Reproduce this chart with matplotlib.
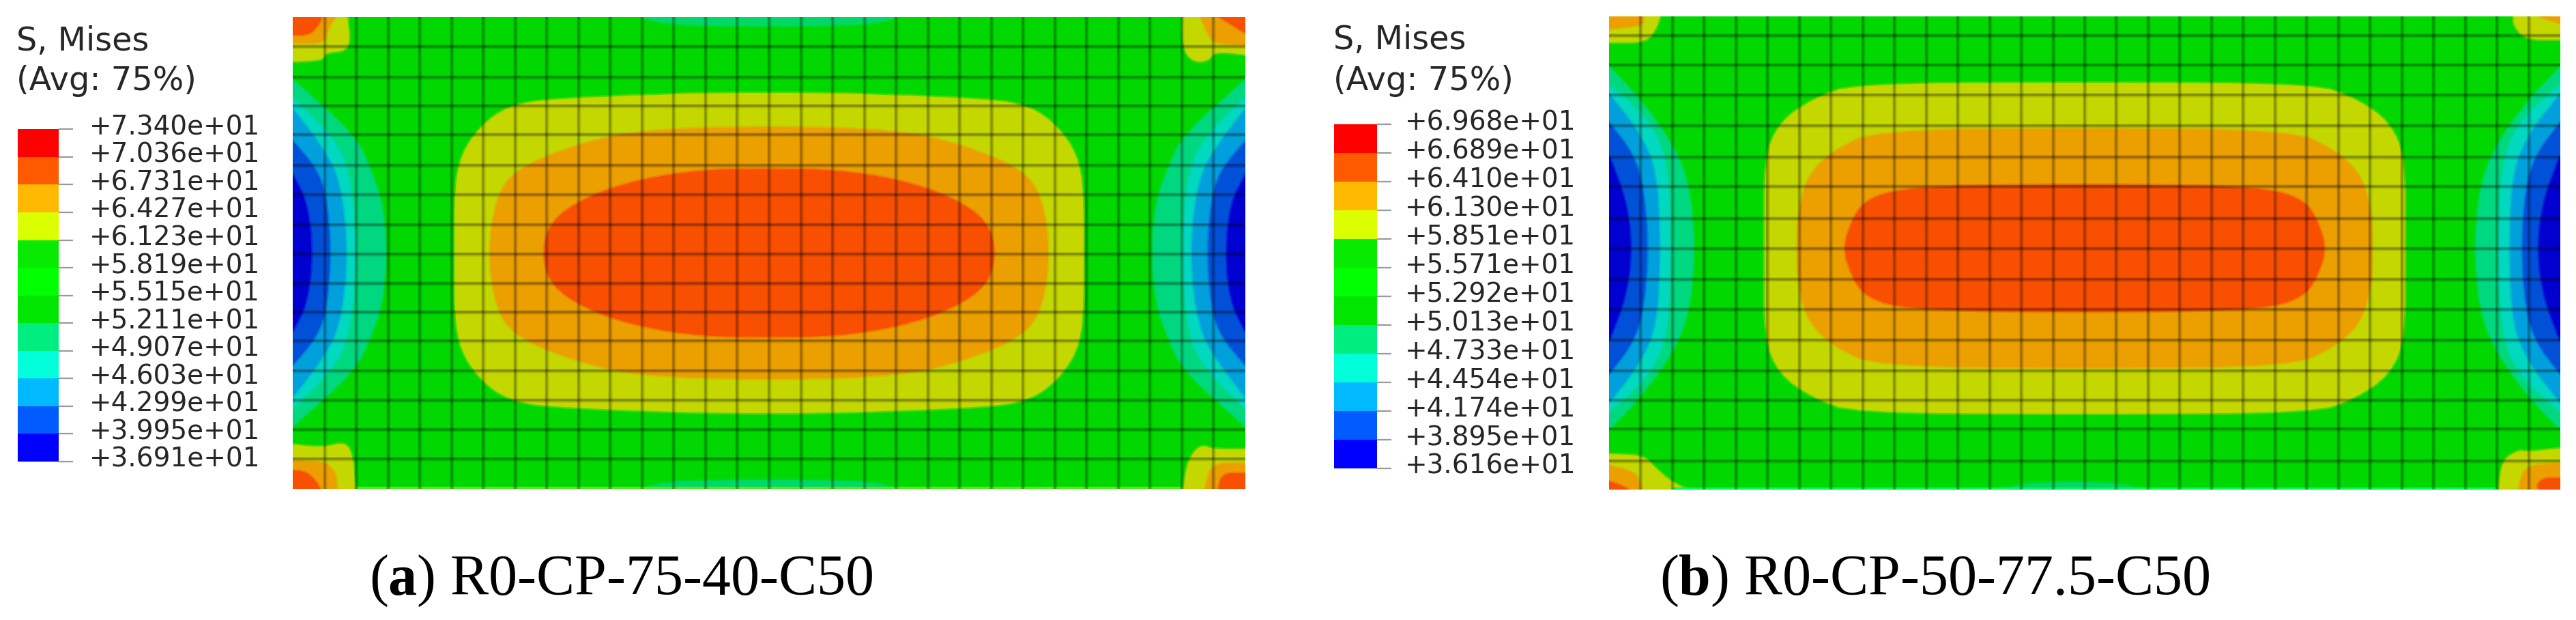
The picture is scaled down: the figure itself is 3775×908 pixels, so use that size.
#!/usr/bin/env python
"""Two Abaqus S, Mises contour panels with legends and captions."""
import matplotlib
matplotlib.use("Agg")
import matplotlib.pyplot as plt
from matplotlib.colors import to_rgba
from matplotlib.patches import Polygon
from matplotlib.transforms import ScaledTranslation

W, H = 3775, 908

plt.rcParams["mathtext.fontset"] = "custom"
plt.rcParams["mathtext.rm"] = "Liberation Serif"
plt.rcParams["mathtext.bf"] = "Liberation Serif:bold"

# legend levels, top to bottom
LEVELS_A = [73.40, 70.36, 67.31, 64.27, 61.23, 58.19, 55.15, 52.11, 49.07, 46.03, 42.99, 39.95, 36.91]
LEVELS_B = [69.68, 66.89, 64.10, 61.30, 58.51, 55.71, 52.92, 50.13, 47.33, 44.54, 41.74, 38.95, 36.16]
LEGEND_COLORS = ["#ff0000", "#ff5a00", "#ffb900", "#dcff00", "#08ea00", "#00ff00",
                 "#00e600", "#00ee80", "#00ffd9", "#00b9ff", "#005cff", "#0000ff"]

# field colours as they appear inside the mesh
GREEN = "#00d800"
YELLOW = "#c4d800"
ORANGE = "#eba000"
RED = "#f85000"
MINT = "#00d880"
CYAN = "#00d8c0"
SKY = "#00a0dc"
BLUE = "#0050d8"
DEEP = "#0000d0"

# mesh lines, in elements from the top
ROWS_A = [1.0, 2.03, 3.01, 3.98, 5.02, 6.02, 7.04, 8.03, 9.03, 10.0, 10.97, 11.99, 12.99, 13.98, 14.98]
ROWS_B = [0.65, 1.65, 2.65, 3.7, 4.76, 5.75, 6.84, 7.84, 8.89, 9.9, 10.95, 11.99, 12.98, 13.95, 15.03]
COLS = list(range(1, 30))

# contour outlines: one quadrant, (fraction of half width, fraction of half height)
A_YELLOW = [(0, .686), (.459, .655), (.55, .62), (.605, .538), (.646, .42), (.66, .27), (.66, 0)]
A_ORANGE = [(0, .538), (.276, .52), (.413, .454), (.532, .353), (.573, .235), (.59, 0)]
A_RED = [(0, .356), (.139, .353), (.276, .31), (.386, .235), (.459, .134), (.476, 0)]
B_YELLOW = [(0, .70), (.482, .695), (.571, .632), (.642, .532), (.673, .381), (.673, 0)]
B_ORANGE = [(0, .507), (.437, .498), (.526, .415), (.58, .314), (.602, .164), (.605, 0)]
B_RED = [(0, .27), (.26, .264), (.40, .247), (.464, .197), (.49, .114), (.508, 0)]

# edge arcs: (fraction of half width from the edge, fraction of half height)
A_MINT = [(.197, 0), (.188, .213), (.163, .358), (.13, .5), (0, .734)]
A_CYAN = [(.135, 0), (.119, .358), (.08, .5), (0, .658)]
A_SKY = [(.116, 0), (.099, .31), (.059, .456), (0, .61)]
A_BLUE = [(.08, 0), (.07, .243), (.049, .358), (0, .474)]
A_DEEP = [(.042, 0), (.03, .213), (0, .33)]
B_MINT = [(.18, 0), (.17, .25), (.14, .42), (.07, .62), (0, .766)]
B_CYAN = [(.13, 0), (.122, .38), (.08, .55), (0, .69)]
B_SKY = [(.107, 0), (.10, .33), (.06, .50), (0, .65)]
B_BLUE = [(.082, 0), (.072, .26), (.05, .40), (0, .53)]
B_DEEP = [(.048, 0), (.036, .2), (0, .39)]

# hot corners: (elements from the side, elements from the top or bottom)
A_TL = [[(0, 1.5), (.95, 1.46), (1.03, 1.2), (1.6, 1.16), (1.8, .88), (1.72, 0)],
        [(0, .88), (.99, .88), (1.08, .46), (1.33, 0)],
        [(0, .6), (.54, .6), (.86, .19), (.9, 0)]]
A_TR = [[(0, 1.27), (.97, 1.16), (1.18, 1.5), (1.68, 1.5), (1.97, 1.04), (1.97, 0)],
        [(0, .96), (.97, .89), (1.18, .58), (1.4, 0)],
        [(0, .54), (.82, 0)]]
A_BL = [[(0, 1.5), (.97, 1.4), (1.68, 1.6), (1.91, 1.02), (1.96, 0)],
        [(0, .97), (.97, .93), (1.35, .58), (1.4, 0)],
        [(0, .62), (.43, .58), (.75, .23), (.86, 0)]]
A_BR = [[(0, 1.34), (1.0, 1.34), (1.41, 1.5), (1.8, 1.0), (1.96, 0)],
        [(0, .87), (1.07, .87), (1.27, 0)],
        [(0, .53), (.73, .53), (.85, 0)]]
B_TL = [[(0, .88), (1.2, .88), (1.53, .3), (1.6, 0)],
        [(0, .42), (1.08, .3), (1.08, 0)]]
B_TR = [[(0, .78), (1.1, .78), (1.47, .3), (1.47, 0)],
        [(0, .24), (.67, 0)]]
B_BL = [[(0, 1.2), (1.08, 1.16), (1.5, .69), (1.94, .28), (2.47, 0)],
        [(0, .81), (.86, .58), (1.03, 0)],
        [(0, .28), (.43, .12), (.6, 0)]]
B_BR = [[(0, 1.39), (1.08, 1.27), (1.29, 1.34), (1.83, 1.0), (1.94, 0)],
        [(0, .88), (1.08, .81), (1.29, .23), (1.29, 0)],
        [(0, .39), (.54, .39), (.75, .12), (.65, 0)]]

# teal strips along the long edges: (fraction of half width, depth in elements)
A_STRIP = [(-.27, 0), (-.2, .3), (.2, .3), (.27, 0)]
B_STRIP = [(-.19, 0), (-.1, .25), (.05, .25), (.134, 0)]


def px_axes(fig, left, top, right, bottom):
    return fig.add_axes([left / W, 1 - bottom / H, (right - left) / W, (bottom - top) / H])


def rounded(pts, closed=False, passes=2):
    # corner cutting, the contours are soft in the picture
    for _ in range(passes):
        out = [] if closed else [pts[0]]
        n = len(pts)
        for i in range(n if closed else n - 1):
            (x0, y0), (x1, y1) = pts[i], pts[(i + 1) % n]
            out.append((.75 * x0 + .25 * x1, .75 * y0 + .25 * y1))
            out.append((.25 * x0 + .75 * x1, .25 * y0 + .75 * y1))
        if not closed:
            out.append(pts[-1])
        pts = out
    return pts


def soft_patch(ax, pts, color):
    ax.add_patch(Polygon(pts, fc=color, ec=to_rgba(color, .4), lw=3.5))


def central_band(ax, quad, color, cy):
    # quad runs from top centre to the right tip, mirror it into a closed outline
    tr = [(15 + u * 15, cy - v * 8) for u, v in quad]
    br = [(15 + u * 15, cy + v * 8) for u, v in reversed(quad[:-1])]
    bl = [(15 - u * 15, cy + v * 8) for u, v in quad[1:]]
    tl = [(15 - u * 15, cy - v * 8) for u, v in reversed(quad[1:-1])]
    soft_patch(ax, rounded(tr + br + bl + tl, closed=True), color)


def edge_arc(ax, quad, color, cy):
    for edge, sign in ((0, 1), (30, -1)):
        top = [(edge + sign * w * 15, cy - v * 8) for w, v in quad]
        bot = [(edge + sign * w * 15, cy + v * 8) for w, v in quad]
        soft_patch(ax, rounded(list(reversed(top)) + bot[1:]), color)


def corner(ax, layers, cx, cy, sx, sy):
    for pts, color in zip(layers, (YELLOW, ORANGE, RED)):
        xy = [(cx + sx * dx, cy + sy * dy) for dx, dy in pts]
        soft_patch(ax, [(cx, cy)] + rounded(xy), color)


def mesh(ax, rows):
    for lw, alpha in ((6.5, .09), (4.2, .14), (2.4, .12)):
        for x in COLS:
            ax.axvline(x, color="black", lw=lw * .72, alpha=alpha, zorder=5)
        for y in rows:
            ax.axhline(y, color="black", lw=lw * .72, alpha=alpha * 1.1, zorder=5)


def draw_panel(ax, arcs, bands, corners, rows, cy, strips, rim):
    ax.set_xlim(0, 30)
    ax.set_ylim(16, 0)
    ax.axis("off")
    ax.add_patch(Polygon([(0, 0), (30, 0), (30, 16), (0, 16)], fc=GREEN, ec="none"))
    for quad, color in zip(arcs, (MINT, CYAN, SKY, BLUE, DEEP)):
        edge_arc(ax, quad, color, cy)
    for quad, color in zip(bands, (YELLOW, ORANGE, RED)):
        central_band(ax, quad, color, cy)
    for strip, y, sign in strips:
        soft_patch(ax, rounded([(15 + u * 15, y + sign * d) for u, d in strip]), "#00d868")
    ax.plot([2, 28], [15.96, 15.96], color=rim, lw=2.5, solid_capstyle="butt", zorder=4)
    tl, tr, bl, br = corners
    corner(ax, tl, 0, 0, 1, 1)
    corner(ax, tr, 30, 0, -1, 1)
    corner(ax, bl, 0, 16, 1, -1)
    corner(ax, br, 30, 16, -1, -1)
    mesh(ax, rows)


def draw_legend(fig, box, levels, label_x):
    left, top, right, bottom = box
    ax = px_axes(fig, left, top, right, bottom)
    for hi, lo, color in zip(levels[:-1], levels[1:], LEGEND_COLORS):
        ax.bar(0, hi - lo, bottom=lo, width=1, color=color, align="edge", linewidth=0)
    ax.set_xlim(0, 1)
    ax.set_ylim(levels[-1], levels[0])
    for s in ax.spines.values():
        s.set_visible(False)
    ax.set_xticks([])
    ax.yaxis.tick_right()
    ax.set_yticks(levels)
    ax.set_yticklabels([f"{v:+.3e}" for v in levels], fontsize=28, color="#262626")
    ax.tick_params(axis="y", length=15, width=1.6, color="#9a9a9a",
                   pad=(label_x - right - 21) * .72)
    shift = ScaledTranslation(0, 7 / 100, fig.dpi_scale_trans)
    for label in ax.get_yticklabels():
        label.set_transform(label.get_transform() + shift)


fig = plt.figure(figsize=(W / 100, H / 100), dpi=100, facecolor="white")

ax_a = px_axes(fig, 429, 25, 1825, 716)
draw_panel(ax_a, [A_MINT, A_CYAN, A_SKY, A_BLUE, A_DEEP], [A_YELLOW, A_ORANGE, A_RED],
           [A_TL, A_TR, A_BL, A_BR], ROWS_A, 8.0, [(A_STRIP, 0, 1), (A_STRIP, 16, -1)], "#50ee20")
ax_b = px_axes(fig, 2358, 24, 3752, 717)
draw_panel(ax_b, [B_MINT, B_CYAN, B_SKY, B_BLUE, B_DEEP], [B_YELLOW, B_ORANGE, B_RED],
           [B_TL, B_TR, B_BL, B_BR], ROWS_B, 7.84, [(B_STRIP, 16, -1)], "#00ff50")

draw_legend(fig, (25.5, 189.3, 86, 675.7), LEVELS_A, 131)
draw_legend(fig, (1955, 182.4, 2018, 686), LEVELS_B, 2059)

for x, y1, y2 in ((24, 61, 119), (1954, 59, 119)):
    fig.text(x / W, 1 - y1 / H, "S, Mises", fontsize=34.5, color="#262626", va="center")
    fig.text(x / W, 1 - y2 / H, "(Avg: 75%)", fontsize=34.5, color="#262626", va="center")

for x, s in ((541, r"($\mathbf{a}$) R0-CP-75-40-C50"), (2432, r"($\mathbf{b}$) R0-CP-50-77.5-C50")):
    fig.text(x / W, 1 - 871 / H, s, fontsize=60.5, family="Liberation Serif", color="black", va="baseline")

fig.savefig("out.png", dpi=100)
